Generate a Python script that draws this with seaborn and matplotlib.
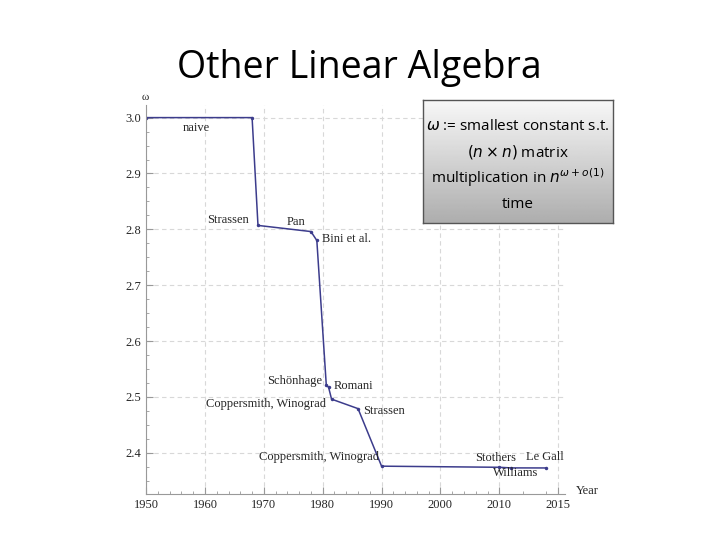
import numpy as np
import matplotlib
matplotlib.use("Agg")
import matplotlib.pyplot as plt
import seaborn as sns

years = [1950, 1968, 1969, 1978, 1979, 1980.6, 1981.0, 1981.5, 1986, 1990, 2010, 2011, 2014]
omega = [3.0, 3.0, 2.807, 2.796, 2.780, 2.522, 2.517, 2.496, 2.479, 2.376, 2.374, 2.3729, 2.3728]
labels = [("naive", 1958.5, 2.982, "center"), ("Strassen", 1967.5, 2.816, "right"),
          ("Pan", 1975.5, 2.813, "center"), ("Bini et al.", 1979.8, 2.782, "left"),
          ("Schönhage", 1979.9, 2.528, "right"), ("Romani", 1981.9, 2.519, "left"),
          ("Coppersmith, Winograd", 1980.5, 2.488, "right"), ("Strassen", 1986.8, 2.475, "left"),
          ("Coppersmith, Winograd", 1989.6, 2.392, "right"), ("Stothers", 2009.3, 2.391, "center"),
          ("Le Gall", 2013.9, 2.393, "center"), ("Williams", 2011.4, 2.363, "center")]
xticks = [1950, 1960, 1970, 1980, 1990, 2000, 2010, 2015]
yticks = [2.4, 2.5, 2.6, 2.7, 2.8, 2.9, 3.0]

sns.set_style("white")
plt.rcParams['font.family'] = ['Liberation Serif', 'DejaVu Serif']

def fwd(x):
    x = np.asarray(x, float)
    return np.where(x <= 2010, x, 2010 + 2 * (x - 2010))
def inv(x):
    x = np.asarray(x, float)
    return np.where(x <= 2010, x, 2010 + (x - 2010) / 2)

fig = plt.figure(figsize=(7.2, 5.4), dpi=100)
ax = fig.add_axes([0.203, 0.085, 0.582, 0.721])
ax.set_xscale('function', functions=(fwd, inv))
sns.lineplot(x=years, y=omega, ax=ax, color="#3c3c8c", lw=1.1, marker='o', ms=2.5,
             markeredgewidth=0, estimator=None, sort=False)
ax.set_xlim(1950, 2015.6)
ax.set_ylim(2.326, 3.023)
ax.set_xticks(xticks)
ax.set_yticks(yticks)
ax.set_xticks([y for y in range(1950, 2016) if y % 2 == 0 and y not in xticks], minor=True)
ax.set_yticks(np.arange(2.35, 3.02, 0.025), minor=True)
ax.grid(True, which='major', color='#d8d8d8', ls=(0, (4, 3)), lw=0.8)
ax.tick_params(which='both', direction='in', labelsize=9, color='#999999')
ax.tick_params(which='major', length=5, left=True, bottom=True)
ax.tick_params(which='minor', length=2.5, left=True, bottom=True)
ax.yaxis.set_major_formatter(matplotlib.ticker.FormatStrFormatter('%.1f'))
for s in ['top', 'right']:
    ax.spines[s].set_visible(False)
for s in ['left', 'bottom']:
    ax.spines[s].set_color('#999999')
for t, x, y, ha in labels:
    ax.text(x, y, t, ha=ha, va='center', fontsize=9)
fig.text(145/720, 1-98/540, "ω", fontsize=8, ha='center', va='center')
fig.text(587/720, 1-491/540, "Year", fontsize=9, ha='center', va='center')

fig.text(359/720, 1-68/540, "Other Linear Algebra", fontsize=27, ha='center', va='center',
         family=['Open Sans', 'DejaVu Sans'], color='black')

bax = fig.add_axes([423/720, 1-223/540, 190/720, 123/540])
grad = np.linspace(0.97, 0.68, 100).reshape(-1, 1)
bax.imshow(grad, aspect='auto', cmap='gray', vmin=0, vmax=1, extent=(0, 1, 0, 1), origin='upper')
bax.set_xticks([]); bax.set_yticks([])
for s in bax.spines.values():
    s.set_color('#555555'); s.set_linewidth(1)
bf = ['Open Sans', 'DejaVu Sans']
lines = [r"$\omega$ := smallest constant s.t.", r"$(n \times n)$ matrix",
         r"multiplication in $n^{\omega+o(1)}$", "time"]
ys = [126, 152, 178, 204]
for l, y in zip(lines, ys):
    fig.text(518/720, 1-y/540, l, fontsize=11, ha='center', va='center', family=bf, color='black')
fig.savefig("out.png", dpi=100)
